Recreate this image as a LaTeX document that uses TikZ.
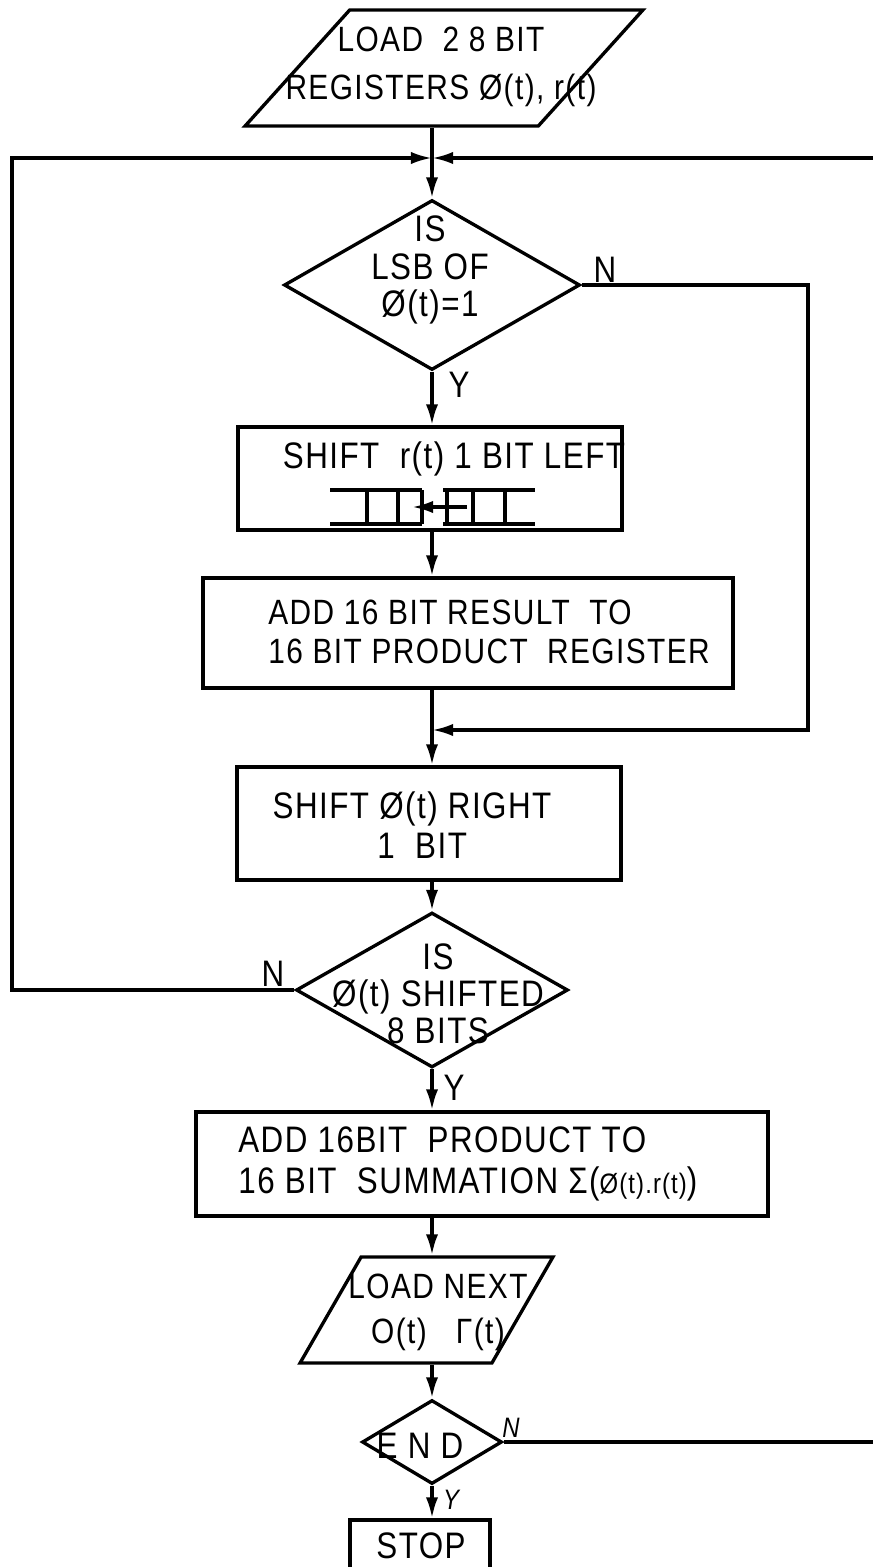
\documentclass[tikz,border=0pt]{standalone}
\usepackage{fontspec}
\setmainfont{Liberation Sans}[FakeStretch=0.85,LetterSpace=4]
\usetikzlibrary{shapes.geometric,arrows.meta}

\tikzset{
  line/.style={line width=1.9pt},
  arr/.style={line,-{Latex[length=12pt,width=7pt]}},
  stepbox/.style={draw,line,rectangle,inner sep=0pt},
  iobox/.style={draw,line,trapezium,trapezium stretches=true,inner sep=2pt},
  decision/.style={draw,line,diamond,inner sep=0pt},
  txt/.style={inner sep=0pt,align=center,font=\fontsize{21}{23}\selectfont},
  yn/.style={inner sep=0pt,font=\fontsize{21}{23}\selectfont},
}

\begin{document}
\begin{tikzpicture}[x=0.02cm,y=-0.02cm]
  \useasboundingbox (0,0) rectangle (872,1567);

  % boxes
  \node[iobox,trapezium left angle=61,trapezium right angle=119,
        minimum width=7.96cm,minimum height=2.32cm] (load) at (444,68) {};
  \node[decision,minimum width=5.92cm,minimum height=3.4cm] (d1) at (432,285) {};
  \node[stepbox,minimum width=7.68cm,minimum height=2.06cm] (shl) at (430,478.5) {};
  \node[stepbox,minimum width=10.6cm,minimum height=2.2cm] (addr) at (468,633) {};
  \node[stepbox,minimum width=7.68cm,minimum height=2.26cm] (shr) at (429,823.5) {};
  \node[decision,minimum width=5.44cm,minimum height=3.1cm] (d2) at (432,990) {};
  \node[stepbox,minimum width=11.44cm,minimum height=2.08cm] (addp) at (482,1164) {};
  \node[iobox,trapezium left angle=65,trapezium right angle=115,
        minimum width=5.06cm,minimum height=2.12cm] (next) at (426.5,1310) {};
  \node[decision,minimum width=2.8cm,minimum height=1.68cm] (fin) at (432,1442) {};
  \node[stepbox,minimum width=2.8cm,minimum height=1.2cm] (stop) at (420,1550) {};

  % texts
  \node[txt,font=\fontsize{20}{27.5}\selectfont] (load-t) at (441,67)
    {LOAD \ 2 8 BIT\\REGISTERS Ø(t), r(t)};
  \node[txt,font=\fontsize{21}{21.5}\selectfont] (d1-t) at (430,270) {IS\\LSB OF\\Ø(t)=1};
  \node[txt] (shl-t) at (454,459) {SHIFT \ r(t) 1 BIT LEFT};
  \node[txt,align=left,anchor=west,font=\fontsize{20}{22}\selectfont] (addr-t) at (268,632)
    {ADD 16 BIT RESULT \ TO\\ 16 BIT PRODUCT \ REGISTER};
  \node[txt,font=\fontsize{21}{22.7}\selectfont] (shr-t) at (412,825)
    {SHIFT Ø(t) RIGHT\\\ \ 1 \ BIT};
  \node[txt,font=\fontsize{21}{21}\selectfont] (d2-t) at (438,994)
    {IS\\Ø(t) SHIFTED\\8 BITS};
  \node[txt,align=left,anchor=west,font=\fontsize{21}{23.5}\selectfont] (addp-t) at (238,1164)
    {ADD 16BIT \ PRODUCT TO\\16 BIT \ SUMMATION Σ({\fontsize{16}{16}\selectfont Ø(t).r(t)})};
  \node[txt,font=\fontsize{20}{25.5}\selectfont] (next-t) at (438,1312)
    {LOAD NEXT\\O(t) \ \ Γ(t)};
  \node[txt] (fin-t) at (420,1446) {E N D};
  \node[txt] (stop-t) at (421,1546) {STOP};

  % yes / no
  \node[yn] (d1-n) at (605,270) {N};
  \node[yn] (d1-y) at (459,385) {Y};
  \node[yn] (d2-n) at (273,974) {N};
  \node[yn] (d2-y) at (454,1088) {Y};
  \node[yn,font=\fontsize{16}{16}\selectfont\itshape] (fin-n) at (511,1428) {N};
  \node[yn,font=\fontsize{16}{16}\selectfont\itshape] (fin-y) at (451,1500) {Y};

  % register in the shift box
  \draw[line] (330,490) -- (422,490) (330,524) -- (422,524)
    (367,490) -- (367,524) (398,490) -- (398,524) (422,490) -- (422,524);
  \draw[line] (443,490) -- (535,490) (443,524) -- (535,524)
    (447,490) -- (447,524) (473,490) -- (473,524) (505,490) -- (505,524);
  \draw[arr] (467,507) -- (412,507);

  % joins
  \coordinate (jtop) at (432,158);
  \coordinate (jmid) at (432,730);

  % flow
  \draw[arr] (load.south -| d1) -- (d1.north);
  \draw[arr] (d1.south) -- (shl.north -| d1);
  \draw[arr] (shl.south -| d1) -- (addr.north -| d1);
  \draw[arr] (addr.south -| d1) -- (shr.north -| d1);
  \draw[arr] (shr.south -| d2) -- (d2.north);
  \draw[arr] (d2.south) -- (addp.north -| d2);
  \draw[arr] (addp.south -| d2) -- (next.north -| d2);
  \draw[arr] (next.south -| fin) -- (fin.north);
  \draw[arr] (fin.south) -- (stop.north -| fin);

  % loops
  \draw[arr] (d1.east) -| (808,730) -- (jmid);
  \draw[arr] (d2.west) -| (12,158) -- (jtop);
  \draw[arr] (fin.east) -| (885,158) -- (jtop);
\end{tikzpicture}
\end{document}
